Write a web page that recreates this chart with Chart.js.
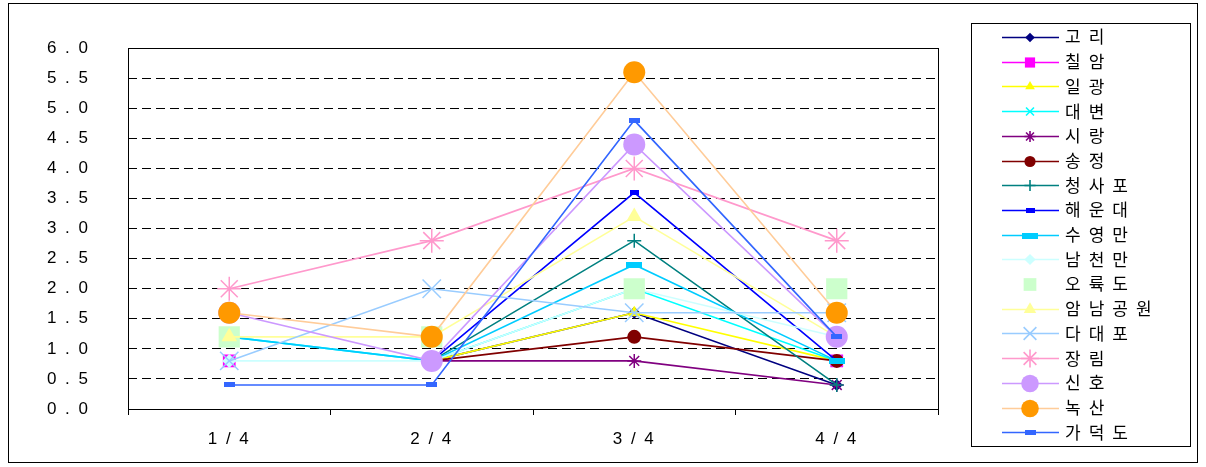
<!DOCTYPE html>
<html><head><meta charset="utf-8">
<script src="https://cdn.jsdelivr.net/npm/chart.js@4/dist/chart.umd.min.js"></script>
<style>html,body{margin:0;padding:0;background:#fff}#wrap{width:1206px;height:467px;position:relative}</style>
</head><body><div id="wrap"><canvas id="c" width="1206" height="467"></canvas></div>
<script>
const categories = ['1/4','2/4','3/4','4/4'];
const seriesNames = ['고리','칠암','일광','대변','시랑','송정','청사포','해운대','수영만','남천만','오륙도','암남공원','다대포','장림','신호','녹산','가덕도'];
const gori      = [null, 0.8, 1.6, 0.4];
const chilam    = [0.8, null, null, 0.8];
const ilgwang   = [null, 0.8, 1.6, 0.8];
const daebyeon  = [1.2, 0.8, 2.0, 0.8];
const sirang    = [null, 0.8, 0.8, 0.4];
const songjeong = [null, 0.8, 1.2, 0.8];
const cheongsapo= [null, 0.8, 2.8, 0.4];
const haeundae  = [null, 0.8, 3.6, 0.8];
const suyeongman= [1.2, 0.8, 2.4, 0.8];
const namcheonman=[0.8, 0.8, 2.0, 1.2];
const oryukdo   = [1.2, 1.2, 2.0, 2.0];
const amnam     = [1.2, 1.2, 3.2, 1.2];
const dadaepo   = [0.8, 2.0, 1.6, 1.6];
const jangrim   = [2.0, 2.8, 4.0, 2.8];
const sinho     = [1.6, 0.8, 4.4, 1.2];
const noksan    = [1.6, 1.2, 5.6, 1.6];
const gadeokdo  = [0.4, 0.4, 4.8, 1.2];
const yTicks = [0,0.5,1,1.5,2,2.5,3,3.5,4,4.5,5,5.5,6];

function dashImg(w,h,color){const c=document.createElement('canvas');c.width=w;c.height=h;const x=c.getContext('2d');x.fillStyle=color;x.fillRect(0,0,w,h);return c;}

const styles = [
 {line:'#000080', pt:'#000080', style:'rectRot', r:6},
 {line:'#FF00FF', pt:'#FF00FF', style:'rect', r:9},
 {line:'#FFFF00', pt:'#FFFF00', style:'triangle', r:7},
 {line:'#00FFFF', pt:'#00FFFF', style:'crossRot', r:7, stroke:true},
 {line:'#800080', pt:'#800080', style:'star', r:7, stroke:true},
 {line:'#800000', pt:'#800000', style:'circle', r:7},
 {line:'#008080', pt:'#008080', style:'cross', r:7, stroke:true},
 {line:'#0000FF', pt:'#0000FF', style:dashImg(9,5,'#0000FF'), r:5},
 {line:'#00CCFF', pt:'#00CCFF', style:dashImg(16,6,'#00CCFF'), r:5},
 {line:'#CCFFFF', pt:'#CCFFFF', style:'rectRot', r:7},
 {line:'#CCFFCC', pt:'#CCFFCC', style:'rect', r:15, noLine:true},
 {line:'#FFFF99', pt:'#FFFF99', style:'triangle', r:9},
 {line:'#99CCFF', pt:'#99CCFF', style:'crossRot', r:13, stroke:true},
 {line:'#FF99CC', pt:'#FF99CC', style:'star', r:12, stroke:true},
 {line:'#CC99FF', pt:'#CC99FF', style:'circle', r:11},
 {line:'#FFCC99', pt:'#FF9900', style:'circle', r:11},
 {line:'#3366FF', pt:'#3366FF', style:dashImg(11,5,'#3366FF'), r:5}
];
const values = [gori,chilam,ilgwang,daebyeon,sirang,songjeong,cheongsapo,haeundae,suyeongman,namcheonman,oryukdo,amnam,dadaepo,jangrim,sinho,noksan,gadeokdo];
const N = values.length;
const datasets = values.map((v,i)=>{
  const s = styles[i];
  return {
    label: seriesNames[i], data: v, order: N - i,
    borderColor: s.line, backgroundColor: s.pt,
    pointBackgroundColor: s.pt, pointBorderColor: s.pt,
    pointBorderWidth: s.stroke ? 1.5 : 0,
    pointStyle: s.style, pointRadius: s.r, pointHoverRadius: s.r,
    borderWidth: 1.6, showLine: !s.noLine, spanGaps: false, tension: 0
  };
});
const font = {family: "'Liberation Sans','Noto Sans CJK KR',sans-serif", size: 17};
const sp = t => String(t).split('').join(' ');

const decor = {
  id:'decor',
  beforeUpdate(chart){ chart.ctx.letterSpacing = '2px'; },
  beforeDraw(chart){ chart.ctx.letterSpacing = '2px'; },
  afterDatasetsDraw(chart){
    const ctx = chart.ctx, a = chart.chartArea;
    ctx.save();
    ctx.strokeStyle = '#000'; ctx.lineWidth = 1;
    ctx.strokeRect(Math.round(a.left)+0.5, Math.round(a.top)+0.5, Math.round(a.right-a.left), Math.round(a.bottom-a.top));
    ctx.restore();
  },
  afterDraw(chart){
    const ctx = chart.ctx;
    ctx.save();
    ctx.strokeStyle = '#000'; ctx.lineWidth = 1;
    ctx.strokeRect(8.5, 3.5, 1189, 459);
    ctx.strokeRect(971.5, 23.5, 219, 423);
    ctx.font = "17px 'Noto Sans CJK KR', sans-serif";
    ctx.letterSpacing = '8px';
    ctx.textBaseline = 'middle'; ctx.fillStyle = '#000';
    chart.data.datasets.forEach((ds,i)=>{
      const y = 37 + i*24.7;
      if (ds.showLine !== false) {
        ctx.strokeStyle = ds.borderColor; ctx.lineWidth = 1.6;
        ctx.beginPath(); ctx.moveTo(1002, Math.round(y)+0.5); ctx.lineTo(1059, Math.round(y)+0.5); ctx.stroke();
      }
      ctx.fillStyle = ds.pointBackgroundColor; ctx.strokeStyle = ds.pointBorderColor;
      const r = typeof ds.pointStyle === 'string' ? Math.min(ds.pointRadius*0.8, 9) : ds.pointRadius;
      Chart.helpers.drawPoint(ctx, {pointStyle: ds.pointStyle, radius: r, rotation: 0, borderWidth: ds.pointBorderWidth || 0}, 1030, Math.round(y)+0.5);
      ctx.fillStyle = '#000';
      ctx.fillText(ds.label, 1065, y);
    });
    ctx.letterSpacing = '0px';
    ctx.restore();
  }
};

new Chart(document.getElementById('c'), {
  type:'line',
  data:{labels: categories, datasets},
  plugins:[decor],
  options:{
    responsive:false, animation:false,
    layout:{padding:{left:0,right:268,top:47,bottom:0}},
    plugins:{legend:{display:false}, tooltip:{enabled:false}},
    scales:{
      x:{
        offset:true,
        grid:{display:true, offset:true, drawOnChartArea:false, drawTicks:true, tickLength:6, color:'#000', lineWidth:1},
        border:{display:false},
        ticks:{font, color:'#000', padding:14, callback:(v,i)=>sp(categories[i]), maxRotation:0},
        afterFit(s){s.height = 58;}
      },
      y:{
        min:0, max:6,
        afterBuildTicks(s){ s.ticks = yTicks.map(v=>({value:v})); },
        grid:{color:(c)=> (c.tick && (c.tick.value===0||c.tick.value===6)) ? 'rgba(0,0,0,0)' : '#000', drawTicks:false, lineWidth:1},
        border:{display:false, dash:[9,5]},
        ticks:{font, color:'#000', padding:38, callback:v=>sp(v.toFixed(1))},
        afterFit(s){s.width = 128;}
      }
    }
  }
});
</script></body></html>
